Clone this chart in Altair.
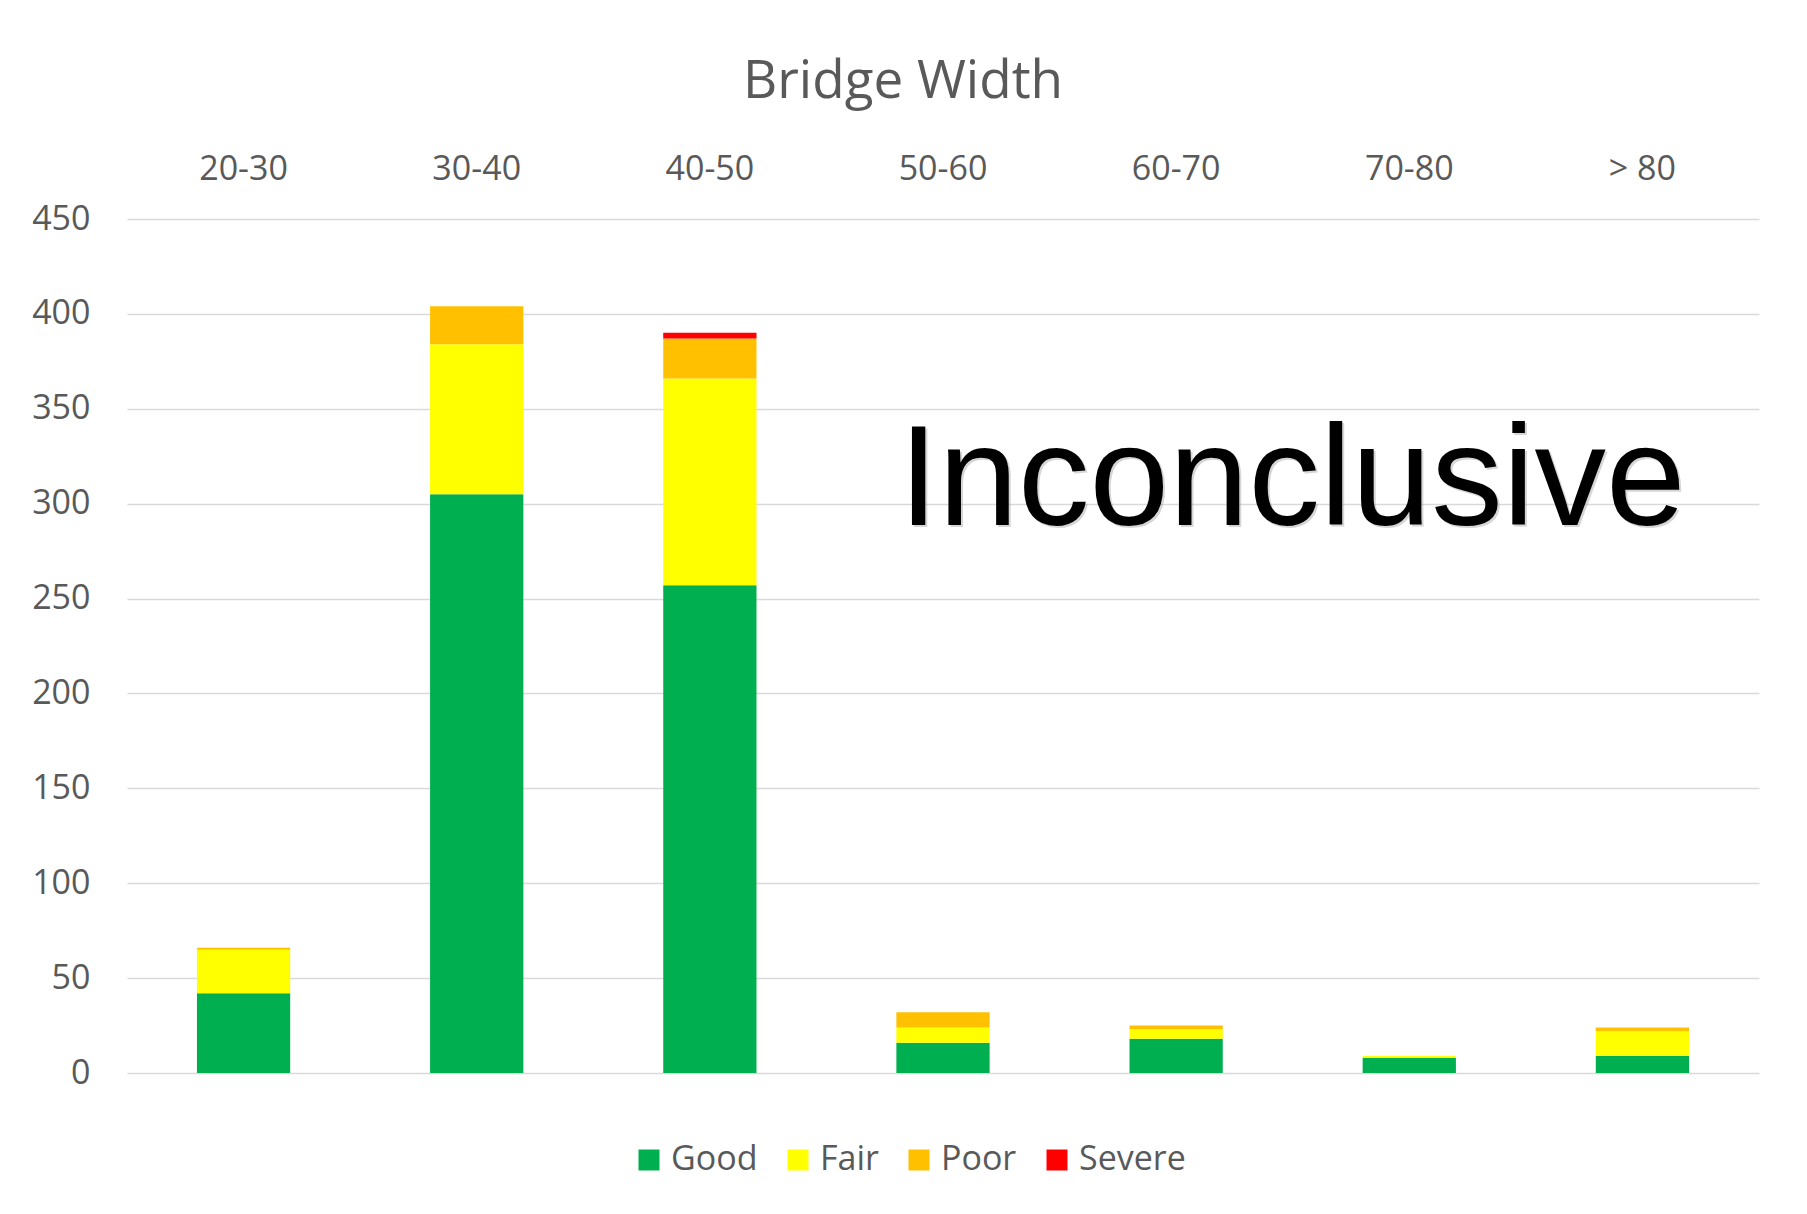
import altair as alt
import pandas as pd

categories = ["20-30", "30-40", "40-50", "50-60", "60-70", "70-80", "> 80"]
conditions = ["Good", "Fair", "Poor", "Severe"]
colors = ["#00B050", "#FFFF00", "#FFC000", "#FF0000"]
good = [42, 305, 257, 16, 18, 8, 9]
fair = [23, 79, 109, 8, 5, 1, 13]
poor = [1, 20, 21, 8, 2, 0, 2]
severe = [0, 0, 3, 0, 0, 0, 0]
y_ticks = [0, 50, 100, 150, 200, 250, 300, 350, 400, 450]
note_text = "Inconclusive"

rows = []
for series, vals in zip(conditions, [good, fair, poor, severe]):
    for c, v in zip(categories, vals):
        rows.append({"width": c, "condition": series, "count": v,
                     "order": conditions.index(series)})
df = pd.DataFrame(rows)

FONT = "Open Sans"
GREY = "#595959"

x_enc = alt.X("width:N", sort=categories,
              scale=alt.Scale(paddingInner=0.6, paddingOuter=0.3),
              axis=alt.Axis(orient="top", title=None, labelAngle=0, domain=False,
                            ticks=False, labelFontSize=34, labelColor=GREY,
                            labelFont=FONT, labelPadding=33))

bars = alt.Chart(df).mark_bar().encode(
    x=x_enc,
    y=alt.Y("count:Q", stack="zero",
            scale=alt.Scale(domain=[0, 450], nice=False),
            axis=alt.Axis(values=y_ticks, title=None, domain=False, ticks=False,
                          labelFontSize=34, labelColor=GREY, labelFont=FONT,
                          labelPadding=37, gridColor="#d9d9d9", gridWidth=1.5)),
    color=alt.Color("condition:N", sort=conditions,
                    scale=alt.Scale(domain=conditions, range=colors),
                    legend=alt.Legend(title=None, orient="none", direction="horizontal",
                                      legendX=505, legendY=924,
                                      symbolType="square", symbolSize=441,
                                      symbolStrokeWidth=0, symbolOpacity=1,
                                      labelFontSize=34, labelColor=GREY, labelFont=FONT,
                                      labelOffset=5, columnPadding=23)),
    order=alt.Order("order:Q", sort="ascending"),
)

note_df = pd.DataFrame({"width": ["60-70"], "count": [289], "label": [note_text]})
shadow = alt.Chart(note_df).mark_text(
    font="Liberation Sans", fontSize=143, color="#9a9a9a", opacity=0.4,
    baseline="alphabetic", align="center", dx=118, dy=2
).encode(x=alt.X("width:N", sort=categories), y=alt.Y("count:Q"), text="label:N")
note = alt.Chart(note_df).mark_text(
    font="Liberation Sans", fontSize=143, color="#000000",
    baseline="alphabetic", align="center", dx=116
).encode(x=alt.X("width:N", sort=categories), y=alt.Y("count:Q"), text="label:N")

chart = alt.layer(bars, shadow, note).properties(
    width=1632, height=854,
    title=alt.TitleParams("Bridge Width", fontSize=53, color=GREY, font=FONT,
                          fontWeight="normal", anchor="middle", dx=-40, offset=43),
    autosize=alt.AutoSizeParams(type="none"),
    padding={"left": 119, "top": 211, "right": 40, "bottom": 133},
).configure(background="white").configure_view(strokeWidth=0, stroke=None)

chart.save("out.html", embed_options={"renderer": "svg", "actions": False})
